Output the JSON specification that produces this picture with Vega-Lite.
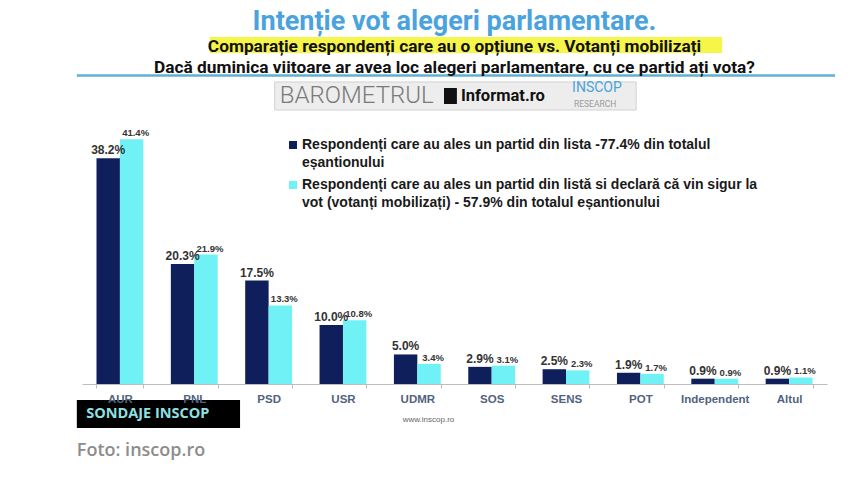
{
  "$schema": "https://vega.github.io/schema/vega-lite/v6.json",
  "width": 745,
  "height": 266,
  "autosize": {"type": "none"},
  "padding": {"left": 82, "top": 118, "right": 23, "bottom": 95},
  "background": "white",
  "title": {
    "text": "Intenție vot alegeri parlamentare.",
    "subtitle": ["Comparație respondenți care au o opțiune vs. Votanți mobilizați", "Dacă duminica viitoare ar avea loc alegeri parlamentare, cu ce partid ați vota?"],
    "anchor": "middle",
    "color": "#4aa3dd",
    "font": "Roboto",
    "fontSize": 27,
    "fontWeight": "bold",
    "subtitleColor": "#111111",
    "subtitleFont": "Roboto",
    "subtitleFontSize": 17.3,
    "subtitleFontWeight": "bold",
    "subtitleLineHeight": 21,
    "subtitlePadding": 2,
    "offset": -40
  },
  "data": {"values": [
    {"party": "AUR", "series": "Respondenți care au ales un partid din lista -77.4%  din totalul eșantionului", "value": 38.2},
    {"party": "AUR", "series": "Respondenți care au ales un partid din listă si declară că vin sigur la vot (votanți mobilizați) - 57.9%  din totalul eșantionului", "value": 41.4},
    {"party": "PNL", "series": "Respondenți care au ales un partid din lista -77.4%  din totalul eșantionului", "value": 20.3},
    {"party": "PNL", "series": "Respondenți care au ales un partid din listă si declară că vin sigur la vot (votanți mobilizați) - 57.9%  din totalul eșantionului", "value": 21.9},
    {"party": "PSD", "series": "Respondenți care au ales un partid din lista -77.4%  din totalul eșantionului", "value": 17.5},
    {"party": "PSD", "series": "Respondenți care au ales un partid din listă si declară că vin sigur la vot (votanți mobilizați) - 57.9%  din totalul eșantionului", "value": 13.3},
    {"party": "USR", "series": "Respondenți care au ales un partid din lista -77.4%  din totalul eșantionului", "value": 10.0},
    {"party": "USR", "series": "Respondenți care au ales un partid din listă si declară că vin sigur la vot (votanți mobilizați) - 57.9%  din totalul eșantionului", "value": 10.8},
    {"party": "UDMR", "series": "Respondenți care au ales un partid din lista -77.4%  din totalul eșantionului", "value": 5.0},
    {"party": "UDMR", "series": "Respondenți care au ales un partid din listă si declară că vin sigur la vot (votanți mobilizați) - 57.9%  din totalul eșantionului", "value": 3.4},
    {"party": "SOS", "series": "Respondenți care au ales un partid din lista -77.4%  din totalul eșantionului", "value": 2.9},
    {"party": "SOS", "series": "Respondenți care au ales un partid din listă si declară că vin sigur la vot (votanți mobilizați) - 57.9%  din totalul eșantionului", "value": 3.1},
    {"party": "SENS", "series": "Respondenți care au ales un partid din lista -77.4%  din totalul eșantionului", "value": 2.5},
    {"party": "SENS", "series": "Respondenți care au ales un partid din listă si declară că vin sigur la vot (votanți mobilizați) - 57.9%  din totalul eșantionului", "value": 2.3},
    {"party": "POT", "series": "Respondenți care au ales un partid din lista -77.4%  din totalul eșantionului", "value": 1.9},
    {"party": "POT", "series": "Respondenți care au ales un partid din listă si declară că vin sigur la vot (votanți mobilizați) - 57.9%  din totalul eșantionului", "value": 1.7},
    {"party": "Independent", "series": "Respondenți care au ales un partid din lista -77.4%  din totalul eșantionului", "value": 0.9},
    {"party": "Independent", "series": "Respondenți care au ales un partid din listă si declară că vin sigur la vot (votanți mobilizați) - 57.9%  din totalul eșantionului", "value": 0.9},
    {"party": "Altul", "series": "Respondenți care au ales un partid din lista -77.4%  din totalul eșantionului", "value": 0.9},
    {"party": "Altul", "series": "Respondenți care au ales un partid din listă si declară că vin sigur la vot (votanți mobilizați) - 57.9%  din totalul eșantionului", "value": 1.1}
  ]},
  "transform": [
    {"calculate": "format(datum.value, '.1f') + '%'", "as": "label"}
  ],
  "encoding": {
    "x": {
      "field": "party",
      "type": "nominal",
      "sort": null,
      "scale": {"domain": ["AUR", "PNL", "PSD", "USR", "UDMR", "SOS", "SENS", "POT", "Independent", "Altul"], "paddingInner": 0.37, "paddingOuter": 0.195},
      "axis": {
        "title": "www.inscop.ro",
        "titleFontSize": 8,
        "titleFontWeight": "normal",
        "titleColor": "#666666",
        "titleFont": "Liberation Sans",
        "titleX": 346,
        "titleY": 37,
        "titleAlign": "center",
        "titleBaseline": "alphabetic",
        "labelAngle": 0,
        "labelFont": "Liberation Sans",
        "labelFontSize": 11.5,
        "labelFontWeight": "bold",
        "labelColor": "#50637f",
        "labelPadding": 5,
        "domainColor": "#bdbdbd",
        "tickColor": "#bdbdbd",
        "tickSize": 4,
        "tickBand": "extent"
      }
    },
    "y": {
      "field": "value",
      "type": "quantitative",
      "scale": {"domain": [0, 45], "nice": false},
      "axis": null
    }
  },
  "layer": [
    {
      "transform": [{"filter": "datum.party == 'AUR' && indexof(datum.series, 'lista -') >= 0"}],
      "mark": {"type": "rect", "fill": "#f6f54a"},
      "encoding": {
        "x": {"datum": "PNL", "bandPosition": 0.83},
        "x2": {"datum": "Independent", "bandPosition": 0.66},
        "y": {"datum": 58.7},
        "y2": {"datum": 56.0}
      }
    },
    {
      "transform": [{"filter": "datum.party == 'AUR' && indexof(datum.series, 'lista -') >= 0"}],
      "mark": {"type": "rule", "color": "#5eb0d4", "strokeWidth": 2.5},
      "encoding": {
        "x": {"datum": "AUR", "bandPosition": -0.42},
        "x2": {"datum": "Altul", "bandPosition": 1.48},
        "y": {"datum": 52.2}
      }
    },
    {
      "transform": [{"filter": "datum.party == 'AUR' && indexof(datum.series, 'lista -') >= 0"}],
      "mark": {"type": "rect", "fill": "#ededed", "stroke": "#d2d2d2", "strokeWidth": 1},
      "encoding": {
        "x": {"datum": "PSD", "bandPosition": 0.63},
        "x2": {"datum": "POT", "bandPosition": 0.41},
        "y": {"datum": 51.1},
        "y2": {"datum": 46.35}
      }
    },
    {
      "transform": [{"filter": "datum.party == 'AUR' && indexof(datum.series, 'lista -') >= 0"}],
      "mark": {"type": "text", "text": "BAROMETRUL", "align": "left", "baseline": "middle", "font": "Roboto", "fontSize": 24, "fontWeight": 300, "color": "#7a7a7a"},
      "encoding": {
        "x": {"datum": "PSD", "bandPosition": 0.74},
        "y": {"datum": 48.72}
      }
    },
    {
      "transform": [{"filter": "datum.party == 'AUR' && indexof(datum.series, 'lista -') >= 0"}],
      "mark": {"type": "rect", "fill": "#111111"},
      "encoding": {
        "x": {"datum": "UDMR", "bandPosition": 1.07},
        "x2": {"datum": "UDMR", "bandPosition": 1.345},
        "y": {"datum": 50.08},
        "y2": {"datum": 47.37}
      }
    },
    {
      "transform": [{"filter": "datum.party == 'AUR' && indexof(datum.series, 'lista -') >= 0"}],
      "mark": {"type": "text", "text": "Informat.ro", "align": "left", "baseline": "middle", "font": "Roboto", "fontSize": 16.5, "fontWeight": "bold", "color": "#111111"},
      "encoding": {
        "x": {"datum": "UDMR", "bandPosition": 1.43},
        "y": {"datum": 48.72}
      }
    },
    {
      "transform": [{"filter": "datum.party == 'AUR' && indexof(datum.series, 'lista -') >= 0"}],
      "mark": {"type": "text", "text": "INSCOP", "align": "left", "baseline": "middle", "font": "Roboto", "fontSize": 14, "color": "#4aa3dd"},
      "encoding": {
        "x": {"datum": "SENS", "bandPosition": 0.63},
        "y": {"datum": 50.08}
      }
    },
    {
      "transform": [{"filter": "datum.party == 'AUR' && indexof(datum.series, 'lista -') >= 0"}],
      "mark": {"type": "text", "text": "RESEARCH", "align": "left", "baseline": "middle", "font": "Roboto", "fontSize": 8.5, "color": "#9a9a9a"},
      "encoding": {
        "x": {"datum": "SENS", "bandPosition": 0.67},
        "y": {"datum": 47.45}
      }
    },
    {
      "mark": {"type": "bar"},
      "encoding": {
        "xOffset": {"field": "series", "type": "nominal", "sort": null, "scale": {"paddingInner": 0, "paddingOuter": 0}},
        "color": {
          "field": "series",
          "type": "nominal",
          "sort": null,
          "scale": {"range": ["#0f1f5c", "#70f1f6"]},
          "legend": {
            "title": null,
            "orient": "none",
            "legendX": 204,
            "legendY": 20,
            "symbolType": "square",
            "symbolSize": 64,
            "symbolStrokeWidth": 0,
            "labelFont": "Liberation Sans",
            "labelFontSize": 14,
            "labelFontWeight": "bold",
            "labelColor": "#1a1a1a",
            "labelLimit": 0,
            "labelBaseline": "middle",
            "labelOffset": 2,
            "rowPadding": 8,
            "labelExpr": "indexof(datum.label, 'lista -') >= 0 ? ['Respondenți care au ales un partid din lista -77.4%  din totalul', 'eșantionului'] : ['Respondenți care au ales un partid din listă si declară că vin sigur la', 'vot (votanți mobilizați) - 57.9%  din totalul eșantionului']"
          }
        }
      }
    },
    {
      "transform": [{"filter": "indexof(datum.series, 'lista -') >= 0"}],
      "mark": {"type": "text", "baseline": "bottom", "dy": -1, "font": "Liberation Sans", "fontSize": 12, "fontWeight": "bold", "color": "#333333"},
      "encoding": {
        "xOffset": {"field": "series", "type": "nominal", "sort": null},
        "text": {"field": "label"}
      }
    },
    {
      "transform": [{"filter": "indexof(datum.series, 'lista -') < 0"}],
      "mark": {"type": "text", "baseline": "bottom", "dy": -1, "dx": 4, "font": "Liberation Sans", "fontSize": 9.5, "fontWeight": "bold", "color": "#333333"},
      "encoding": {
        "xOffset": {"field": "series", "type": "nominal", "sort": null},
        "text": {"field": "label"}
      }
    },
    {
      "transform": [{"filter": "datum.party == 'AUR' && indexof(datum.series, 'lista -') >= 0"}],
      "mark": {"type": "rect", "fill": "#000000"},
      "encoding": {
        "x": {"datum": "AUR", "bandPosition": -0.42},
        "x2": {"datum": "PSD", "bandPosition": -0.11},
        "y": {"datum": -2.71},
        "y2": {"datum": -7.44}
      }
    },
    {
      "transform": [{"filter": "datum.party == 'AUR' && indexof(datum.series, 'lista -') >= 0"}],
      "mark": {"type": "text", "text": "SONDAJE INSCOP", "align": "left", "baseline": "middle", "font": "Open Sans", "fontSize": 14.5, "fontWeight": "bold", "color": "#8fe0e3"},
      "encoding": {
        "x": {"datum": "AUR", "bandPosition": -0.22},
        "y": {"datum": -5.08}
      }
    },
    {
      "transform": [{"filter": "datum.party == 'AUR' && indexof(datum.series, 'lista -') >= 0"}],
      "mark": {"type": "text", "text": "Foto: inscop.ro", "align": "left", "baseline": "middle", "font": "Open Sans", "fontSize": 18, "fontWeight": 600, "color": "#8c8c8c"},
      "encoding": {
        "x": {"datum": "AUR", "bandPosition": -0.42},
        "y": {"datum": -11.33}
      }
    }
  ],
  "config": {
    "view": {"stroke": null},
    "style": {"guide-label": {"lineHeight": 17.5}}
  }
}
